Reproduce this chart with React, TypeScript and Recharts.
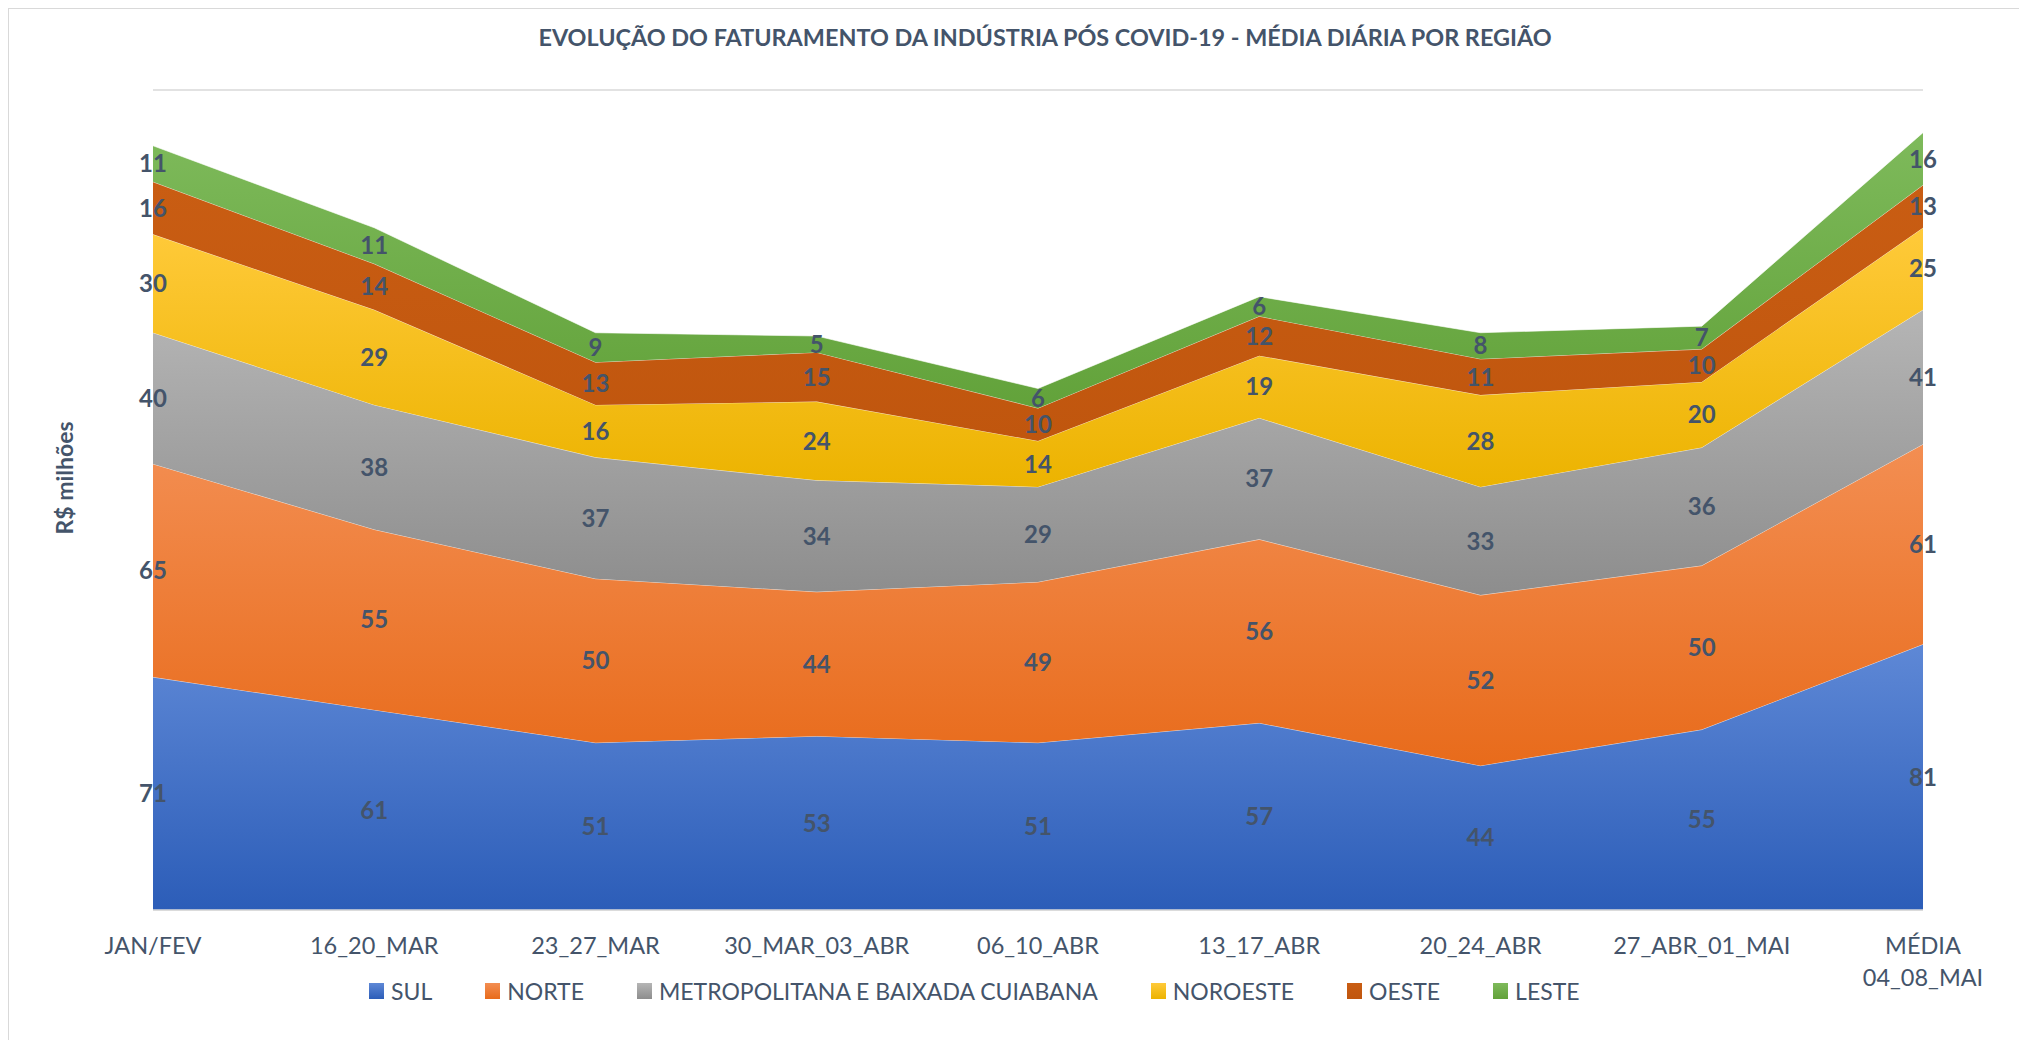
import React from 'react';
import { AreaChart, Area, XAxis, YAxis, CartesianGrid, Legend } from 'recharts';

// Weeks on the x axis
const categories = [
  'JAN/FEV',
  '16_20_MAR',
  '23_27_MAR',
  '30_MAR_03_ABR',
  '06_10_ABR',
  '13_17_ABR',
  '20_24_ABR',
  '27_ABR_01_MAI',
  'MÉDIA 04_08_MAI',
];

// Daily average revenue per region (R$ milhões)
const sul = [71, 61, 51, 53, 51, 57, 44, 55, 81];
const norte = [65, 55, 50, 44, 49, 56, 52, 50, 61];
const metropolitana = [40, 38, 37, 34, 29, 37, 33, 36, 41];
const noroeste = [30, 29, 16, 24, 14, 19, 28, 20, 25];
const oeste = [16, 14, 13, 15, 10, 12, 11, 10, 13];
const leste = [11, 11, 9, 5, 6, 6, 8, 7, 16];

const yTicks = [0, 50, 100, 150, 200, 250];

const series = [
  { key: 'sul', name: 'SUL', values: sul, top: '#5E88D6', bottom: '#2C5DB8' },
  { key: 'norte', name: 'NORTE', values: norte, top: '#F38E52', bottom: '#E86B1B' },
  { key: 'metro', name: 'METROPOLITANA E BAIXADA CUIABANA', values: metropolitana, top: '#B5B5B5', bottom: '#8D8D8D' },
  { key: 'noroeste', name: 'NOROESTE', values: noroeste, top: '#FFCA3A', bottom: '#ECB300' },
  { key: 'oeste', name: 'OESTE', values: oeste, top: '#C95D13', bottom: '#C0560E' },
  { key: 'leste', name: 'LESTE', values: leste, top: '#7EBA5B', bottom: '#62A23A' },
];

const data = categories.map((category, i) => {
  const row: Record<string, string | number> = { category };
  series.forEach((s) => {
    row[s.key] = s.values[i];
  });
  return row;
});

const W = 2019;
const H = 1040;
const MARGIN = { top: 90, right: 96, bottom: 70, left: 0 };
const X_AXIS_H = 60;
const Y_AXIS_W = 153;
const PLOT_H = H - MARGIN.top - MARGIN.bottom - X_AXIS_H;
const Y_MAX = 250;
const PX_PER_UNIT = PLOT_H / Y_MAX;

const TEXT = '#44546A';
const FONT = 'Lato, "Open Sans", sans-serif';

const makeLabel = (values: number[]) => (props: any) => {
  const x = props.x ?? props.viewBox?.x;
  const y = props.y ?? props.viewBox?.y;
  const v = values[props.index];
  if (x == null || y == null || v == null) return null;
  return (
    <text
      x={x}
      y={y + (v * PX_PER_UNIT) / 2}
      dy="0.36em"
      textAnchor="middle"
      fill={TEXT}
      fontFamily={FONT}
      fontWeight={700}
      fontSize={24}
    >
      {v}
    </text>
  );
};

const XTick = (props: any) => {
  const { x, y, payload } = props;
  const lines = String(payload.value).split(' ');
  return (
    <text x={x} y={y + 44} textAnchor="middle" fill={TEXT} fontFamily={FONT} fontSize={23.5}>
      {lines.map((line, i) => (
        <tspan key={i} x={x} dy={i === 0 ? 0 : 32}>
          {line}
        </tspan>
      ))}
    </text>
  );
};

const YLabel = (props: any) => {
  const vb = props.viewBox || { x: 0, y: MARGIN.top, width: Y_AXIS_W, height: PLOT_H };
  const cx = vb.x + 65;
  const cy = vb.y + vb.height / 2 - 22;
  return (
    <text
      x={cx}
      y={cy}
      dy="0.36em"
      transform={`rotate(-90 ${cx} ${cy})`}
      textAnchor="middle"
      fill={TEXT}
      fontFamily={FONT}
      fontWeight={700}
      fontSize={23}
    >
      R$ milhões
    </text>
  );
};

const LegendContent = () => (
  <div style={{ display: 'flex', alignItems: 'center', fontFamily: FONT, fontSize: 23, color: TEXT }}>
    {series.map((s) => (
      <div key={s.key} style={{ display: 'flex', alignItems: 'center', marginRight: 53 }}>
        <span
          style={{
            display: 'inline-block',
            width: 15,
            height: 16,
            background: `linear-gradient(${s.top}, ${s.bottom})`,
          }}
        />
        <span style={{ marginLeft: 7, whiteSpace: 'nowrap' }}>{s.name}</span>
      </div>
    ))}
  </div>
);

export default function App() {
  return (
    <div
      style={{
        position: 'absolute',
        left: 0,
        top: 0,
        width: W,
        height: H,
        background: '#fff',
        overflow: 'hidden',
        fontFamily: FONT,
      }}
    >
      <div
        style={{
          position: 'absolute',
          left: 8,
          top: 8,
          width: W + 100,
          height: H + 100,
          borderTop: '1px solid #D9D9D9',
          borderLeft: '1px solid #D9D9D9',
        }}
      />
      <div
        style={{
          position: 'absolute',
          left: 0,
          top: 23,
          width: 2090,
          textAlign: 'center',
          fontSize: 23.4,
          lineHeight: '28px',
          fontWeight: 700,
          color: TEXT,
          whiteSpace: 'nowrap',
        }}
      >
        EVOLUÇÃO DO FATURAMENTO DA INDÚSTRIA PÓS COVID-19 - MÉDIA DIÁRIA POR REGIÃO
      </div>
      <AreaChart width={W} height={H} data={data} margin={MARGIN}>
        <defs>
          {series.map((s) => (
            <linearGradient key={s.key} id={`grad-${s.key}`} x1="0" y1="0" x2="0" y2="1">
              <stop offset="0%" stopColor={s.top} />
              <stop offset="100%" stopColor={s.bottom} />
            </linearGradient>
          ))}
        </defs>
        <CartesianGrid vertical={false} stroke="#D9D9D9" strokeWidth={1.5} />
        <XAxis
          dataKey="category"
          height={X_AXIS_H}
          interval={0}
          tickLine={false}
          tickSize={0}
          tickMargin={0}
          axisLine={{ stroke: '#D9D9D9', strokeWidth: 1.5 }}
          tick={<XTick />}
        />
        <YAxis
          width={Y_AXIS_W}
          domain={[0, Y_MAX]}
          ticks={yTicks}
          tick={false}
          tickLine={false}
          axisLine={false}
          label={<YLabel />}
        />
        <Legend
          layout="horizontal"
          verticalAlign="middle"
          align="center"
          content={<LegendContent />}
          wrapperStyle={{ left: 369, top: 977, width: 1600, height: 28 }}
        />
        {series.map((s) => (
          <Area
            key={s.key}
            type="linear"
            dataKey={s.key}
            name={s.name}
            stackId="1"
            fill={`url(#grad-${s.key})`}
            fillOpacity={1}
            stroke="#ffffff"
            strokeOpacity={0.6}
            strokeWidth={1}
            dot={false}
            activeDot={false}
            isAnimationActive={false}
            label={makeLabel(s.values)}
          />
        ))}
      </AreaChart>
    </div>
  );
}
